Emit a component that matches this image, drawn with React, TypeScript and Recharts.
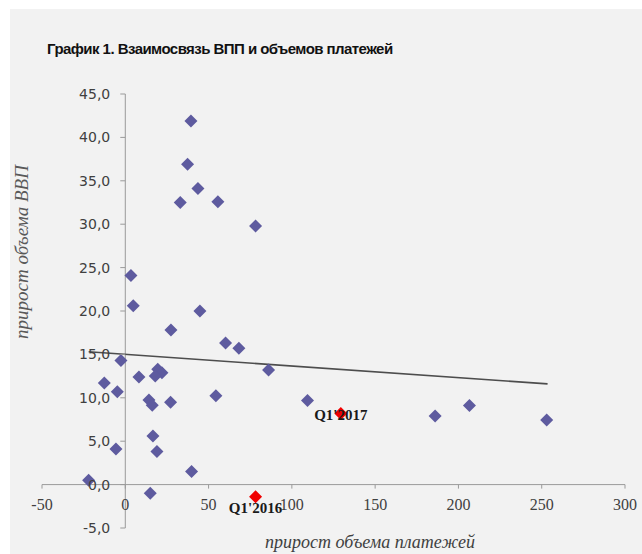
import React from 'react';
import { ScatterChart, Scatter, XAxis, YAxis, ReferenceLine } from 'recharts';

// прирост объема платежей (x) и прирост объема ВВП (y), по кварталам
const paymentsGrowth = [
  39.4, 37.4, 43.6, 33.0, 55.6, 78.2, 3.4, 4.8, 44.8, 27.4, 60.2, 68.2,
  -2.6, 86.0, 8.2, 19.5, 22.0, 18.0, -12.6, -4.8, 54.4, 14.2, 16.2, 27.2,
  16.6, -5.6, 19.0, 39.8, -22.0, 15.0, 109.4, 186.0, 206.6, 253.0,
];
const gdpGrowth = [
  41.9, 36.9, 34.1, 32.5, 32.6, 29.8, 24.1, 20.6, 20.0, 17.8, 16.3, 15.7,
  14.3, 13.2, 12.4, 13.3, 12.9, 12.5, 11.7, 10.7, 10.25, 9.75, 9.15, 9.5,
  5.6, 4.1, 3.8, 1.5, 0.5, -1.0, 9.7, 7.9, 9.1, 7.45,
];

const markedX = [78.2, 129.4];
const markedY = [-1.4, 8.2];
const markedLabels = ["Q1'2016", "Q1'2017"];

// линия тренда
const trendX = [-22, 253.5];
const trendY = [15.3, 11.6];

const xTicks = [-50, 0, 50, 100, 150, 200, 250, 300];
const yTicks = [-5, 0, 5, 10, 15, 20, 25, 30, 35, 40, 45];

const X_DOMAIN: [number, number] = [-50, 300];
const Y_DOMAIN: [number, number] = [-5, 45];

const W = 642;
const H = 554;
// axes take 1px each, the rest of the offset is margin
const MARGIN = { top: 94, right: 17, bottom: 25, left: 41 };
const PLOT_W = W - MARGIN.left - 1 - MARGIN.right;
const PLOT_H = H - MARGIN.top - MARGIN.bottom - 1;

// axes cross at zero, so shift the tick rows from the plot edges onto the zero lines
const X_SHIFT = (PLOT_H * (0 - Y_DOMAIN[0])) / (Y_DOMAIN[1] - Y_DOMAIN[0]);
const Y_SHIFT = (PLOT_W * (0 - X_DOMAIN[0])) / (X_DOMAIN[1] - X_DOMAIN[0]);

const AXIS_COLOR = '#9a9a9a';
const TEXT_COLOR = '#404040';
const BLUE = '#5e5b9f';
const RED = '#f00000';

const points = paymentsGrowth.map((x, i) => ({ x, y: gdpGrowth[i] }));
const marked = markedX.map((x, i) => ({ x, y: markedY[i], label: markedLabels[i] }));

const makeDiamond = (fill: string, labelDy?: number) => (props: any) => {
  const { cx, cy, payload } = props;
  const r = 6.5;
  return (
    <g>
      <polygon
        points={`${cx},${cy - r} ${cx + r},${cy} ${cx},${cy + r} ${cx - r},${cy}`}
        fill={fill}
      />
      {labelDy !== undefined && payload.label && (
        <text
          x={cx}
          y={cy + labelDy}
          textAnchor="middle"
          dominantBaseline="central"
          fontFamily="'Liberation Serif', serif"
          fontWeight="bold"
          fontSize={15}
          fill="#1a1a1a"
        >
          {payload.label}
        </text>
      )}
    </g>
  );
};

const XTick = (props: any) => {
  const { x, y, payload } = props;
  const y0 = y - X_SHIFT;
  return (
    <g>
      <line x1={x} y1={y0} x2={x} y2={y0 + 4} stroke={AXIS_COLOR} />
      <text
        x={x}
        y={y0 + 25}
        textAnchor="middle"
        fontFamily="'Liberation Serif', serif"
        fontSize={16}
        fill={TEXT_COLOR}
      >
        {payload.value}
      </text>
    </g>
  );
};

const YTick = (props: any) => {
  const { x, y, payload } = props;
  const x0 = x + Y_SHIFT;
  return (
    <g>
      <line x1={x0 - 5} y1={y} x2={x0} y2={y} stroke={AXIS_COLOR} />
      <text
        x={x0 - 15}
        y={y}
        textAnchor="end"
        dominantBaseline="central"
        fontFamily="'DejaVu Sans', sans-serif"
        fontSize={14}
        fill={TEXT_COLOR}
      >
        {payload.value.toFixed(1).replace('.', ',')}
      </text>
    </g>
  );
};

const App: React.FC = () => {
  return (
    <div style={{ position: 'absolute', left: 0, top: 0, width: W, height: H, background: '#fff' }}>
      <div style={{ position: 'absolute', left: 10, top: 9, right: 0, bottom: 0, background: '#f2f2f2' }} />
      <div
        style={{
          position: 'absolute',
          left: 47,
          top: 40,
          fontFamily: "'Liberation Sans', Arial, sans-serif",
          fontWeight: 'bold',
          fontSize: 15,
          letterSpacing: -0.55,
          color: '#111',
          whiteSpace: 'nowrap',
        }}
      >
        График 1. Взаимосвязь ВПП и объемов платежей
      </div>
      <div
        style={{
          position: 'absolute',
          left: 22,
          top: 252,
          transform: 'translate(-50%, -50%) rotate(-90deg)',
          fontFamily: "'Liberation Serif', serif",
          fontStyle: 'italic',
          fontSize: 19,
          color: '#595959',
          whiteSpace: 'nowrap',
        }}
      >
        прирост объема ВВП
      </div>
      <div
        style={{
          position: 'absolute',
          left: 370,
          top: 532,
          transform: 'translateX(-50%)',
          fontFamily: "'Liberation Serif', serif",
          fontStyle: 'italic',
          fontSize: 18,
          lineHeight: '20px',
          color: TEXT_COLOR,
          whiteSpace: 'nowrap',
        }}
      >
        прирост объема платежей
      </div>
      <div style={{ position: 'absolute', left: 0, top: 0 }}>
        <ScatterChart width={W} height={H} margin={MARGIN}>
          <XAxis
            type="number"
            dataKey="x"
            domain={X_DOMAIN}
            ticks={xTicks}
            interval={0}
            height={1}
            axisLine={false}
            tickLine={false}
            tickSize={0}
            tickMargin={0}
            tick={<XTick />}
            allowDataOverflow
          />
          <YAxis
            type="number"
            dataKey="y"
            domain={Y_DOMAIN}
            ticks={yTicks}
            interval={0}
            width={1}
            axisLine={false}
            tickLine={false}
            tickSize={0}
            tickMargin={0}
            tick={<YTick />}
            allowDataOverflow
          />
          <ReferenceLine y={0} stroke={AXIS_COLOR} strokeWidth={1} />
          <ReferenceLine x={0} stroke={AXIS_COLOR} strokeWidth={1} />
          <ReferenceLine
            segment={[
              { x: trendX[0], y: trendY[0] },
              { x: trendX[1], y: trendY[1] },
            ]}
            stroke="#4d4d4d"
            strokeWidth={1.6}
          />
          <Scatter data={points} fill={BLUE} shape={makeDiamond(BLUE)} isAnimationActive={false} />
          <Scatter data={[marked[0]]} fill={RED} shape={makeDiamond(RED, 11)} isAnimationActive={false} />
          <Scatter data={[marked[1]]} fill={RED} shape={makeDiamond(RED, 2)} isAnimationActive={false} />
        </ScatterChart>
      </div>
    </div>
  );
};

export default App;
